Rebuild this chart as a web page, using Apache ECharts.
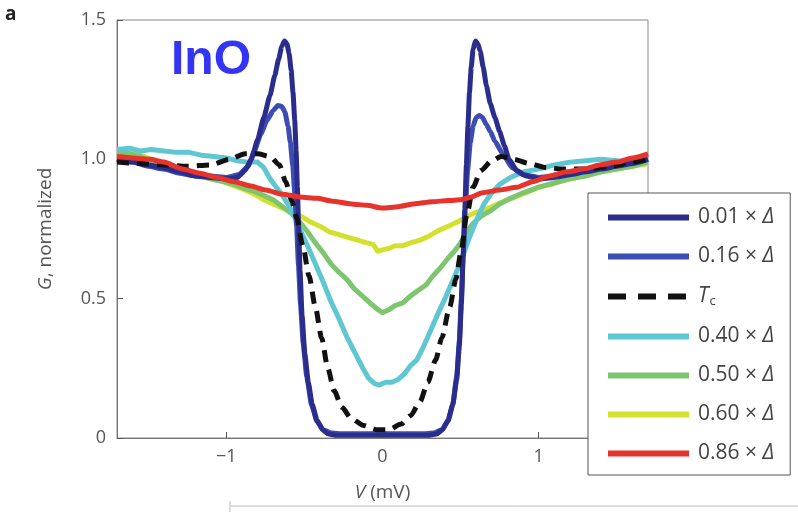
<!DOCTYPE html>
<html><head><meta charset="utf-8">
<script src="https://cdn.jsdelivr.net/npm/echarts@6/dist/echarts.min.js"></script>
<style>html,body{margin:0;padding:0;background:#fff}#c{width:798px;height:512px}</style>
</head><body><div id="c"></div>
<script>
// ---- data (V in mV, G normalized) ----
const V01=[-1.7,-1.6,-1.5,-1.4,-1.3,-1.2,-1.1,-1.0,-0.93,-0.88,-0.84,-0.8,-0.76,-0.72,-0.69,-0.665,-0.645,-0.628,-0.612,-0.598,-0.585,-0.573,-0.562,-0.553,-0.545,-0.537,-0.528,-0.515,-0.497,-0.475,-0.45,-0.42,-0.385,-0.35,-0.3,-0.15,0,0.15,0.3,0.35,0.385,0.42,0.45,0.475,0.492,0.505,0.516,0.527,0.537,0.547,0.557,0.568,0.58,0.595,0.61,0.625,0.645,0.665,0.69,0.72,0.75,0.78,0.81,0.86,0.92,1.0,1.1,1.2,1.3,1.4,1.5,1.6,1.7];
const G01=[1.0,0.99,0.98,0.97,0.955,0.94,0.935,0.93,0.935,0.96,1.0,1.07,1.15,1.23,1.3,1.36,1.405,1.425,1.415,1.38,1.32,1.24,1.14,1.03,0.9,0.76,0.6,0.44,0.3,0.2,0.12,0.065,0.03,0.015,0.01,0.01,0.01,0.01,0.01,0.015,0.03,0.065,0.12,0.21,0.33,0.48,0.65,0.82,0.98,1.12,1.24,1.33,1.395,1.425,1.415,1.39,1.33,1.265,1.2,1.15,1.1,1.05,1.0,0.96,0.94,0.93,0.935,0.945,0.955,0.965,0.975,0.985,1.0];

const V16=[-1.7,-1.6,-1.5,-1.4,-1.3,-1.2,-1.1,-1.0,-0.92,-0.86,-0.82,-0.78,-0.74,-0.7,-0.67,-0.645,-0.625,-0.605,-0.59,-0.575,-0.562,-0.55,-0.538,-0.525,-0.508,-0.485,-0.455,-0.42,-0.38,-0.33,-0.25,0,0.25,0.33,0.38,0.42,0.45,0.475,0.492,0.505,0.517,0.53,0.545,0.562,0.58,0.6,0.62,0.64,0.665,0.69,0.72,0.77,0.83,0.9,1.0,1.1,1.2,1.3,1.4,1.5,1.6,1.7];
const G16=[1.0,0.99,0.975,0.965,0.95,0.94,0.94,0.935,0.945,0.975,1.03,1.09,1.14,1.175,1.193,1.19,1.17,1.12,1.06,0.98,0.88,0.76,0.62,0.48,0.34,0.22,0.12,0.06,0.03,0.018,0.015,0.015,0.015,0.018,0.03,0.06,0.12,0.22,0.35,0.5,0.66,0.82,0.96,1.06,1.12,1.15,1.157,1.15,1.125,1.1,1.065,1.02,0.97,0.945,0.935,0.94,0.95,0.96,0.97,0.98,0.99,1.0];

const VTc=[-1.7,-1.55,-1.4,-1.25,-1.1,-0.98,-0.88,-0.8,-0.72,-0.66,-0.62,-0.58,-0.55,-0.51,-0.47,-0.43,-0.39,-0.35,-0.31,-0.26,-0.2,-0.12,-0.04,0.04,0.12,0.18,0.24,0.29,0.34,0.38,0.43,0.47,0.5,0.54,0.58,0.63,0.7,0.76,0.84,0.94,1.05,1.15,1.3,1.45,1.6,1.7];
const GTc=[0.99,0.985,0.98,0.975,0.98,1.0,1.02,1.02,1.01,0.98,0.92,0.85,0.79,0.69,0.58,0.47,0.36,0.25,0.17,0.11,0.07,0.045,0.03,0.03,0.05,0.08,0.13,0.2,0.28,0.36,0.47,0.57,0.66,0.8,0.9,0.96,0.995,1.01,1.0,0.985,0.97,0.965,0.965,0.975,0.99,1.0];

const V40=[-1.7,-1.62,-1.55,-1.48,-1.4,-1.32,-1.24,-1.16,-1.08,-1.0,-0.93,-0.86,-0.8,-0.76,-0.72,-0.68,-0.64,-0.6,-0.56,-0.53,-0.48,-0.43,-0.38,-0.33,-0.28,-0.23,-0.18,-0.13,-0.09,-0.05,-0.02,0.02,0.06,0.1,0.14,0.18,0.22,0.26,0.3,0.35,0.4,0.45,0.5,0.55,0.6,0.65,0.7,0.75,0.82,0.9,1.0,1.1,1.2,1.3,1.4,1.5,1.6,1.7];
const G40=[1.035,1.04,1.03,1.035,1.03,1.025,1.025,1.015,1.01,1.005,0.995,0.99,0.99,0.97,0.93,0.9,0.87,0.835,0.79,0.75,0.69,0.625,0.56,0.49,0.43,0.365,0.31,0.255,0.215,0.195,0.19,0.2,0.2,0.21,0.23,0.26,0.28,0.325,0.375,0.44,0.5,0.565,0.63,0.71,0.78,0.84,0.88,0.91,0.935,0.955,0.965,0.98,0.99,0.995,1.0,0.995,0.99,0.995];

const V50=[-1.7,-1.62,-1.55,-1.48,-1.4,-1.32,-1.25,-1.18,-1.1,-1.02,-0.95,-0.88,-0.82,-0.76,-0.7,-0.64,-0.58,-0.53,-0.48,-0.43,-0.38,-0.33,-0.28,-0.23,-0.18,-0.13,-0.08,-0.04,0.0,0.04,0.08,0.13,0.18,0.23,0.28,0.32,0.37,0.42,0.46,0.5,0.54,0.58,0.63,0.69,0.75,0.82,0.9,1.0,1.1,1.2,1.3,1.4,1.5,1.6,1.7];
const G50=[1.025,1.02,1.01,0.995,0.98,0.965,0.955,0.945,0.93,0.92,0.91,0.895,0.885,0.87,0.855,0.83,0.805,0.775,0.74,0.70,0.665,0.625,0.595,0.57,0.535,0.51,0.485,0.465,0.45,0.46,0.475,0.485,0.51,0.53,0.55,0.58,0.61,0.645,0.67,0.70,0.74,0.77,0.795,0.815,0.84,0.86,0.88,0.9,0.915,0.93,0.94,0.955,0.965,0.975,0.99];

const V60=[-1.7,-1.62,-1.55,-1.48,-1.4,-1.32,-1.25,-1.18,-1.1,-1.02,-0.95,-0.88,-0.82,-0.76,-0.7,-0.64,-0.58,-0.52,-0.46,-0.4,-0.34,-0.28,-0.22,-0.16,-0.1,-0.06,-0.03,0.0,0.04,0.08,0.13,0.18,0.24,0.3,0.36,0.42,0.48,0.54,0.6,0.66,0.72,0.78,0.85,0.92,1.0,1.08,1.16,1.24,1.32,1.4,1.5,1.6,1.7];
const G60=[1.03,1.025,1.015,1.0,0.985,0.965,0.955,0.94,0.93,0.92,0.905,0.89,0.875,0.855,0.84,0.825,0.81,0.795,0.775,0.76,0.74,0.73,0.72,0.71,0.70,0.695,0.67,0.675,0.68,0.69,0.69,0.70,0.71,0.725,0.745,0.76,0.775,0.795,0.81,0.82,0.835,0.85,0.865,0.88,0.90,0.91,0.925,0.935,0.945,0.955,0.965,0.975,0.985];

const V86=[-1.7,-1.6,-1.49,-1.4,-1.28,-1.17,-1.06,-0.95,-0.85,-0.75,-0.64,-0.53,-0.42,-0.32,-0.2,-0.1,0,0.1,0.2,0.32,0.42,0.5,0.57,0.64,0.75,0.86,0.96,1.07,1.18,1.29,1.39,1.5,1.6,1.7];
const G86=[1.01,1.005,1.0,0.99,0.965,0.95,0.935,0.92,0.905,0.89,0.875,0.865,0.86,0.85,0.84,0.835,0.825,0.83,0.84,0.848,0.852,0.855,0.865,0.88,0.89,0.9,0.92,0.94,0.955,0.965,0.98,0.99,1.005,1.02];

const seriesNames=['0.01 × Δ','0.16 × Δ','Tc','0.40 × Δ','0.50 × Δ','0.60 × Δ','0.86 × Δ'];
const seriesColors=['#2b2d8c','#3c4cb2','#111111','#5fc7d2','#7dc56f','#d3e02e','#e8332c'];
const xTicks=[-1,0,1];
const yTicks=[0,0.5,1.0,1.5];

function zip(v,g){return v.map((x,i)=>[x,g[i]]);}
const dataSets=[[V01,G01],[V16,G16],[VTc,GTc],[V40,G40],[V50,G50],[V60,G60],[V86,G86]];
const zOrder=[6,5,7,4,3,2,8];
const smoothOn=[0.15,0.15,0.25,0,0,0,0.2];

const chart=echarts.init(document.getElementById('c'),null,{renderer:'canvas'});
const FONT='"Open Sans", "DejaVu Sans", sans-serif';

const series=seriesNames.map((n,i)=>({
  name:n,type:'line',data:zip(dataSets[i][0],dataSets[i][1]),
  symbol:'none',showSymbol:false,smooth:smoothOn[i],smoothMonotone:'x',
  z:zOrder[i],
  lineStyle:{width:5,color:seriesColors[i],type:n==='Tc'?[12,8]:'solid',join:'round'},
  itemStyle:{color:seriesColors[i]},
  emphasis:{disabled:true},animation:false
}));

chart.setOption({
  animation:false,
  grid:{left:117,right:150,top:20,bottom:74,show:true,borderColor:'#888',borderWidth:1,containLabel:false},
  xAxis:{type:'value',min:-1.7,max:1.7,
    axisLine:{show:true,onZero:false,lineStyle:{color:'#777',width:1}},
    axisTick:{show:true,inside:true,length:6,customValues:xTicks,lineStyle:{color:'#555'}},
    axisLabel:{customValues:xTicks,fontSize:18,color:'#555',fontFamily:FONT,margin:10,
      formatter:v=>v<0?'−'+Math.abs(v):String(v)},
    splitLine:{show:false},
    name:'{i|V} (mV)',nameLocation:'middle',nameGap:45,
    nameTextStyle:{fontFamily:FONT,fontSize:19,color:'#555',
      rich:{i:{fontStyle:'italic',fontFamily:FONT,fontSize:19,color:'#555'}}}
  },
  yAxis:{type:'value',min:0,max:1.5,interval:0.5,
    axisLine:{show:true,onZero:false,lineStyle:{color:'#777',width:1}},
    axisTick:{show:true,inside:true,length:6,lineStyle:{color:'#555'}},
    axisLabel:{fontSize:18,color:'#555',fontFamily:FONT,margin:11,
      formatter:v=>v===0?'0':v.toFixed(1)},
    splitLine:{show:false},
    name:'{i|G}, normalized',nameLocation:'middle',nameGap:62,
    nameTextStyle:{fontFamily:FONT,fontSize:19,color:'#555',
      rich:{i:{fontStyle:'italic',fontFamily:FONT,fontSize:19,color:'#555'}}}
  },
  legend:{orient:'vertical',left:588,top:193,z:20,
    padding:[14,16,11,17],itemWidth:81,itemHeight:6,itemGap:18,
    backgroundColor:'#fff',borderColor:'#555',borderWidth:1,borderRadius:0,
    selectedMode:false,
    lineStyle:{width:6},itemStyle:{opacity:0},
    data:seriesNames.map(n=>n==='Tc'?{name:n,lineStyle:{type:[18,12],width:6}}:{name:n}),
    formatter:function(name){
      if(name==='Tc') return '{t|T}{s|c}';
      const num=name.split(' ')[0];
      return '{n|'+num+' × }{d|Δ}';
    },
    textStyle:{fontFamily:FONT,fontSize:21,color:'#444',
      rich:{
        n:{fontFamily:FONT,fontSize:21,color:'#444',lineHeight:22,padding:[0,0,0,4]},
        d:{fontFamily:FONT,fontSize:21,color:'#444',fontStyle:'italic',lineHeight:22},
        t:{fontFamily:FONT,fontSize:21,color:'#444',fontStyle:'italic',lineHeight:22,padding:[0,0,0,4]},
        s:{fontFamily:FONT,fontSize:13,color:'#444',lineHeight:13,padding:[10,0,0,1]}
      }}
  },
  graphic:[
    {type:'text',left:5,top:5,z:30,style:{text:'a',font:'bold 19px "Open Sans"',fill:'#222'}},
    {type:'text',left:171,top:37,z:30,style:{text:'InO',font:'bold 48px "Liberation Sans"',fill:'#3434f4'}},
    {type:'line',z:30,shape:{x1:231,y1:506,x2:798,y2:506},style:{stroke:'#bbb',lineWidth:1}},
    {type:'line',z:30,shape:{x1:230,y1:501,x2:230,y2:512},style:{stroke:'#bbb',lineWidth:1}}
  ],
  series:series
});
</script></body></html>
